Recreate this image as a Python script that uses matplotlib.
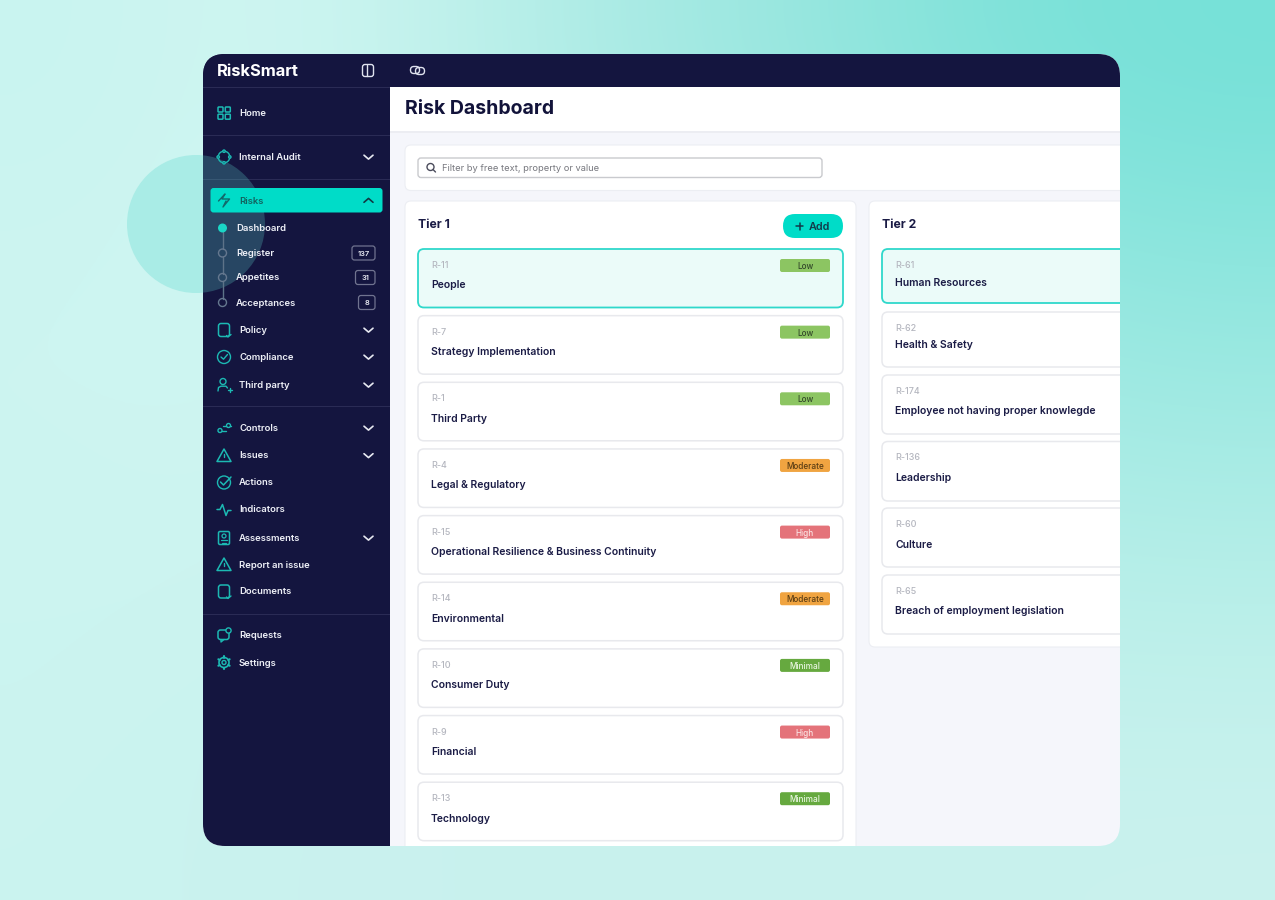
import numpy as np
import matplotlib
matplotlib.use("Agg")
import matplotlib.pyplot as plt
from matplotlib.patches import FancyBboxPatch, Circle, Rectangle, Polygon
from matplotlib.colors import to_rgb

# ---- content ----
tier1_ids = ["R-11", "R-7", "R-1", "R-4", "R-15", "R-14", "R-10", "R-9", "R-13"]
tier1_names = ["People", "Strategy Implementation", "Third Party", "Legal & Regulatory",
               "Operational Resilience & Business Continuity", "Environmental",
               "Consumer Duty", "Financial", "Technology"]
tier1_levels = ["Low", "Low", "Low", "Moderate", "High", "Moderate", "Minimal", "High", "Minimal"]
tier2_ids = ["R-61", "R-62", "R-174", "R-136", "R-60", "R-65"]
tier2_names = ["Human Resources", "Health & Safety", "Employee not having proper knowlegde",
               "Leadership", "Culture", "Breach of employment legislation"]
sub_items = ["Dashboard", "Register", "Appetites", "Acceptances"]
sub_counts = ["", "137", "31", "8"]
nav_labels = ["Home", "Internal Audit", "Policy", "Compliance", "Third party", "Controls",
              "Issues", "Actions", "Indicators", "Assessments", "Report an issue",
              "Documents", "Requests", "Settings"]

# ---- layout / style ----
W, H = 1275, 900
NAVY = "#14153f"
TEAL = "#00dcc8"
ICON = "#1cb9b3"
INK = "#1a1b45"
LEVEL_COL = {"Low": "#8cc562", "Moderate": "#f0a441", "High": "#e4737a", "Minimal": "#66a93f"}
LEVEL_TXT = {"Low": "#33482a", "Moderate": "#5a3d14", "High": "#fbe3e3", "Minimal": "#e9f5e1"}
plt.rcParams["font.family"] = ["Inter", "DejaVu Sans"]
PX = 0.72

fig = plt.figure(figsize=(W / 100, H / 100), dpi=100)
ax = fig.add_axes([0, 0, 1, 1])
ax.set_xlim(0, W)
ax.set_ylim(H, 0)
ax.axis("off")

# background gradient
grid = [["#c9f4f0", "#d0f6f2", "#bff1eb", "#a8eae4", "#95e6de", "#7ee2d9", "#76e1d8"],
        ["#cdf5f1", "#d0f6f2", "#c4f2ed", "#b4eee8", "#a6ebe4", "#96e8e0", "#8ee6de"],
        ["#cdf5f1", "#cef5f1", "#c8f3ef", "#c0f1ec", "#b6efe9", "#aaece6", "#a6ebe4"],
        ["#ccf4f0", "#cbf3ef", "#c9f2ee", "#c6f1ed", "#c3f1ec", "#bff0eb", "#bdf0ea"],
        ["#cbf4f0", "#c9f2ee", "#c9f1ee", "#c9f1ee", "#c9f1ee", "#c9f2ee", "#caf2ee"]]
bg = np.array([[to_rgb(c) for c in row] for row in grid])
ax.imshow(bg, extent=(0, W, H, 0), aspect="auto", interpolation="bicubic", zorder=0)
ax.set_xlim(0, W)
ax.set_ylim(H, 0)

# circle behind the window
ax.add_patch(Circle((196, 224), 69, fc="#a9ece6", ec="none", zorder=1))

# app window
window = FancyBboxPatch((203, 54), 917, 792, boxstyle="round,pad=0,rounding_size=22",
                        fc="#f5f6fb", ec="none", zorder=2)
ax.add_patch(window)
clipped = []


def keep(a):
    clipped.append(a)
    return a


def rrect(x0, y0, x1, y1, r, fc, ec="none", lw=0, z=3):
    p = FancyBboxPatch((x0, y0), x1 - x0, y1 - y0, boxstyle=f"round,pad=0,rounding_size={r}",
                       fc=fc, ec=ec, lw=lw, zorder=z)
    ax.add_patch(p)
    return keep(p)


def rect(x0, y0, x1, y1, fc, z=3):
    p = Rectangle((x0, y0), x1 - x0, y1 - y0, fc=fc, ec="none", zorder=z)
    ax.add_patch(p)
    return keep(p)


def label(x, y, s, px, c, w=600, ha="left", z=8):
    return ax.text(x, y, s, fontsize=px * PX, color=c, fontweight=w, ha=ha,
                   va="center_baseline", zorder=z)


def line(xs, ys, c=ICON, lw=1.0, z=7):
    l, = ax.plot(xs, ys, color=c, lw=lw, solid_capstyle="round", solid_joinstyle="round", zorder=z)
    return keep(l)


def ring(x, y, r, ec=ICON, fc="none", lw=1.0, z=7):
    p = Circle((x, y), r, fc=fc, ec=ec, lw=lw, zorder=z)
    ax.add_patch(p)
    return keep(p)


def chevron(x, y, up=False, c="#e8eaf2"):
    d = -3 if up else 3
    line([x - 4.5, x, x + 4.5], [y - d * 0.6, y + d * 0.7, y - d * 0.6], c=c, lw=1.2)


# sidebar, header, top bar
rect(203, 54, 390, 846, NAVY)
rect(390, 87, 1120, 131, "#ffffff")
rect(390, 131, 1120, 132.5, "#ecedf2")
rect(203, 54, 1120, 87, NAVY)
for yy in [87, 135, 179, 406, 614]:
    rect(203, yy, 390, yy + 1, "#2a2b55", z=4)

# translucent circle over the sidebar
c2 = Circle((196, 224), 69, fc="#5fd6cc", ec="none", alpha=0.26, zorder=4)
ax.add_patch(c2)
keep(c2)

label(217, 70.5, "RiskSmart", 16.5, "#ffffff", w=700)
# toggle icon & link icon
rrect(362.5, 64.5, 373.5, 76.5, 2.5, "none", ec="#dfe2ee", lw=1.0, z=7)
line([366.5, 366.5], [65, 76], c="#dfe2ee", lw=1.0)
rrect(410.5, 66.5, 419.5, 73.5, 3.4, "none", ec="#dfe2ee", lw=1.0, z=7)
rrect(415.5, 67.5, 424.5, 74.5, 3.4, "none", ec="#dfe2ee", lw=1.0, z=7)

# nav rows
nav_y = [113, 157, 330, 357, 385, 428, 455.5, 482, 509.5, 538, 564.5, 591.5, 635, 662.5]
nav_chev = [False, True, True, True, True, True, True, False, False, True, False, False, False, False]
for s, y, ch in zip(nav_labels, nav_y, nav_chev):
    label(239, y - 0.5, s, 9.5, "#eef0f7", w=600)
    if ch:
        chevron(368.5, y)


def ic_home(y):
    for x0 in (218, 225.3):
        for y0 in (y - 6, y + 1.2):
            rrect(x0, y0, x0 + 5, y0 + 5, 0.8, "none", ec=ICON, lw=1.1, z=7)


def ic_audit(y):
    ring(224, y, 5.8)
    for dx, dy in [(0, -5.8), (0, 5.8), (-5.8, 0), (5.8, 0)]:
        ring(224 + dx, y + dy, 1.2, fc=NAVY)


def ic_doc(y):
    rrect(218.5, y - 6.5, 229.5, y + 6.5, 2.5, "none", ec=ICON, lw=1.1, z=7)
    line([226.5, 228, 231], [y + 5.5, y + 7, y + 4.5], lw=1.0)


def ic_check(y):
    ring(224, y, 6.5)
    line([221, 223.5, 227.5], [y, y + 2.2, y - 2.5])


def ic_people(y):
    ring(223, y - 3.5, 3)
    line([218, 218.5, 221, 226, 227.5], [y + 6, y + 2.5, y + 1.2, y + 1.2, y + 3])
    line([228, 232], [y + 4.5, y + 4.5])
    line([230, 230], [y + 2.5, y + 6.5])


def ic_controls(y):
    line([218, 226], [y + 2.5, y + 2.5])
    line([223, 231], [y - 2.5, y - 2.5])
    ring(220, y + 2.5, 2, fc=NAVY)
    ring(228.5, y - 2.5, 2, fc=NAVY)


def ic_warn(y):
    keep(ax.add_patch(Polygon([[224, y - 6.5], [231, y + 6], [217, y + 6]], closed=True, fc="none",
                              ec=ICON, lw=1.1, joinstyle="round", zorder=7)))
    line([224, 224], [y - 2, y + 1.5], lw=1.0)
    line([224, 224], [y + 3.5, y + 3.7], lw=1.1)


def ic_actions(y):
    ring(224, y + 0.5, 6.5)
    line([220.5, 223.5, 231], [y, y + 3, y - 5], lw=1.1)


def ic_pulse(y):
    line([217, 220, 222.5, 226, 228, 231], [y, y, y - 5, y + 6, y + 1, y + 1], lw=1.1)


def ic_assess(y):
    rrect(218.5, y - 6.5, 229.5, y + 6.5, 1.5, "none", ec=ICON, lw=1.1, z=7)
    ring(224, y - 2, 2, lw=0.9)
    line([221, 227], [y + 2, y + 2], lw=0.9)
    line([222, 226], [y + 4.5, y + 4.5], lw=0.9)


def ic_req(y):
    rrect(218, y - 5, 229, y + 4.5, 2.5, "none", ec=ICON, lw=1.1, z=7)
    line([221, 221, 224], [y + 4.5, y + 7, y + 4.5])
    ring(228.5, y - 4.5, 2.6, fc=NAVY)


def ic_gear(y):
    ring(224, y, 2, lw=1.0)
    ring(224, y, 5, lw=1.2)
    ax_ang = np.arange(0, 360, 60) + 30
    for a in np.deg2rad(ax_ang):
        line([224 + 5 * np.cos(a), 224 + 6.5 * np.cos(a)], [y + 5 * np.sin(a), y + 6.5 * np.sin(a)], lw=1.5)


icon_funcs = [ic_home, ic_audit, ic_doc, ic_check, ic_people, ic_controls, ic_warn,
              ic_actions, ic_pulse, ic_assess, ic_warn, ic_doc, ic_req, ic_gear]
for f, y in zip(icon_funcs, nav_y):
    f(y)

# active Risks item
rrect(210.5, 188, 382.5, 212.5, 3, TEAL, z=5)
label(239, 200, "Risks", 9.5, "#12625f", w=600)
chevron(368.5, 200.5, up=True, c="#113a45")
line([218.5, 225, 222, 229.5, 223, 226], [201, 194, 199, 199, 207, 201], c="#116a6c", lw=1.0)

# sub-items
sub_y = [228, 253, 277.5, 302.5]
for a, b in zip(sub_y[:-1], sub_y[1:]):
    line([222.5, 222.5], [a + 3.5, b - 4], c="#5d7388", lw=1.0, z=5)
for i, (s, n, y) in enumerate(zip(sub_items, sub_counts, sub_y)):
    if i == 0:
        ring(222.5, y, 4.5, ec="none", fc="#1ad6c6", lw=0)
    else:
        ring(222.5, y, 4, ec="#65788f", fc="none", lw=1.0)
    label(236, y - 0.5, s, 9.5, "#eef0f7", w=600)
    if n:
        x0 = {3: 352, 2: 355.5, 1: 358.5}[len(n)]
        rrect(x0, y - 7, 375, y + 7, 2.5, NAVY, ec="#70738f", lw=0.9, z=6)
        label((x0 + 375) / 2, y, n, 7.5, "#eef0f7", w=600, ha="center")

# title
label(405, 106.5, "Risk Dashboard", 19.5, "#12133a", w=700)

# filter panel
rrect(405, 145, 1140, 190.5, 6, "#ffffff", ec="#eceef3", lw=0.8)
rrect(418, 158, 822, 177.5, 3, "#ffffff", ec="#c9cace", lw=1.0, z=4)
ring(430.5, 167, 3.5, ec="#4b4c5c", lw=1.0)
line([433, 435.5], [169.5, 172], c="#4b4c5c", lw=1.0)
label(441.5, 167.5, "Filter by free text, property or value", 9.3, "#77787f", w=400)

# tier panels
rrect(405, 201, 856, 880, 6, "#ffffff", ec="#eceef3", lw=0.8)
rrect(869, 201, 1140, 647, 6, "#ffffff", ec="#eceef3", lw=0.8)
label(418, 223.5, "Tier 1", 12.2, INK, w=700)
label(882, 223.5, "Tier 2", 12.2, INK, w=700)
rrect(783, 214, 843, 238, 12, TEAL, z=4)
line([796, 803], [226, 226], c="#123a4a", lw=1.1)
line([799.5, 799.5], [222.5, 229.5], c="#123a4a", lw=1.1)
label(809, 226, "Add", 10.8, "#123a4a", w=600)

# Tier 1 cards
T1_TOP, T1_PITCH, T1_H = 249, 66.65, 58.5
for i, (rid, name, lev) in enumerate(zip(tier1_ids, tier1_names, tier1_levels)):
    top = T1_TOP + i * T1_PITCH
    active = i == 0
    rrect(418, top, 843, top + T1_H, 6, "#ebfbf9" if active else "#ffffff",
          ec="#2fd8cb" if active else "#e8e9ed", lw=1.3 if active else 1.1, z=4)
    label(431, top + 15.5, rid, 9, "#b4b6bf", w=500)
    label(431, top + 35.5, name, 10.4, INK, w=600)
    rrect(780, top + 10, 830, top + 23, 2, LEVEL_COL[lev], z=5)
    label(805, top + 16.5, lev, 8.2, LEVEL_TXT[lev], w=500, ha="center")

# Tier 2 cards
t2_tops = [249, 312, 375, 441.5, 508, 575]
t2_bots = [303, 367, 434, 501, 567, 634]
for i, (rid, name, t, b) in enumerate(zip(tier2_ids, tier2_names, t2_tops, t2_bots)):
    active = i == 0
    rrect(882, t, 1140, b, 6, "#ebfbf9" if active else "#ffffff",
          ec="#2fd8cb" if active else "#e8e9ed", lw=1.3 if active else 1.1, z=4)
    label(895, t + 15.5, rid, 9, "#b4b6bf", w=500)
    label(895, t + 32.5 if i < 2 else t + 35.5, name, 10.4, INK, w=600)

for a in clipped:
    a.set_clip_path(window)
for t in ax.texts:
    t.set_clip_path(window)

fig.savefig("out.png", dpi=100)
